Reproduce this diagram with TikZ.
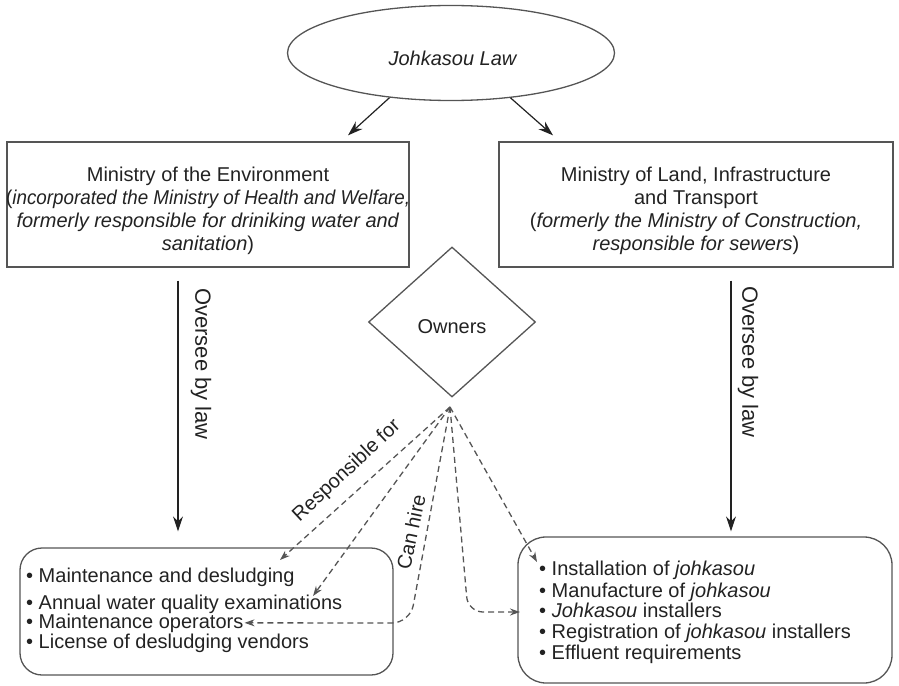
\documentclass[tikz,border=0pt]{standalone}
\usepackage{fontspec}
\setmainfont{Liberation Sans}
\usetikzlibrary{shapes.geometric,arrows.meta,calc}
\definecolor{ink}{HTML}{222222}
\definecolor{frame}{HTML}{555555}
\definecolor{dashc}{HTML}{555555}
\tikzset{
  txt/.style={font=\fontsize{20}{23}\selectfont, text=ink},
  box/.style={draw=frame, line width=1.3pt, inner sep=0pt},
  boxtxt/.style={txt, inner sep=0pt, align=center},
  bul/.style={txt, inner sep=0pt, anchor=base west},
  solidarrow/.style={draw=ink, line width=1.2pt, -{Stealth[length=15pt,width=10pt]}},
  dasharrow/.style={draw=dashc, line width=1.3pt, dash pattern=on 6pt off 4pt, -{Stealth[length=10pt,width=7pt]}},
}
\begin{document}
\begin{tikzpicture}[x=1pt,y=-1pt]
\useasboundingbox (0,0) rectangle (899,685);
% top ellipse
\node[draw=frame, line width=1.3pt, ellipse, minimum width=327pt, minimum height=95pt, inner sep=0pt] (law) at (451,53) {};
\node[txt, inner sep=0pt] (lawtxt) at (453,58) {\textit{Johkasou Law}};
% ministries
\node[box, minimum width=402pt, minimum height=125pt] (env) at (208,204.5) {};
\node[boxtxt] (envtxt) at (208,211)
  {Ministry of the Environment\\(\scalebox{0.94}[1]{\textit{incorporated the Ministry of Health and Welfare,}}\\\textit{formerly responsible for driniking water and}\\\textit{sanitation})};
\node[box, minimum width=394pt, minimum height=125pt] (land) at (696,204.5) {};
\node[boxtxt] (landtxt) at (696,211)
  {Ministry of Land, Infrastructure\\and Transport\\(\textit{formerly the Ministry of Construction,}\\\textit{responsible for sewers})};
% owners
\node[draw=frame, line width=1.3pt, diamond, aspect=1.11, minimum width=167pt, minimum height=150pt, inner sep=0pt] (owners) at (452,322) {};
\node[txt, inner sep=0pt] (ownlbl) at (452,327) {Owners};
% bottom boxes
\node[draw=frame, line width=1.3pt, rounded corners=22pt, minimum width=373pt, minimum height=127pt] (lbox) at (206.5,611.5) {};
\node[draw=frame, line width=1.3pt, rounded corners=28pt, minimum width=374pt, minimum height=146pt] (rbox) at (705,610) {};
% left box items
\node[bul] (m1) at (26,582) {• Maintenance and desludging};
\node[bul] (m2) at (26,609) {• Annual water quality examinations};
\node[bul] (m3) at (26,628) {• Maintenance operators};
\node[bul] (m4) at (26,648) {• License of desludging vendors};
% right box items
\node[bul] (r1) at (539,575) {• Installation of \textit{johkasou}};
\node[bul] (r2) at (539,597) {• Manufacture of \textit{johkasou}};
\node[bul] (r3) at (539,617) {• \textit{Johkasou} installers};
\node[bul] (r4) at (539,638) {• Registration of \textit{johkasou} installers};
\node[bul] (r5) at (539,659) {• Effluent requirements};
% arrows from law
\draw[solidarrow] (law.216) -- ([xshift=140pt,yshift=6pt]env.north);
\draw[solidarrow] (law.323) -- ([xshift=-143pt,yshift=6pt]land.north);
% oversee arrows
\draw[solidarrow] ([xshift=-30pt,yshift=-13pt]env.south) -- ([xshift=-28.5pt,yshift=16pt]lbox.north);
\draw[solidarrow] ([xshift=35pt,yshift=-13pt]land.south) -- ([xshift=26pt,yshift=5pt]rbox.north);
\node[txt, font=\fontsize{22}{24}\selectfont, rotate=-90, inner sep=0pt] (ov1) at (201,364) {Oversee by law};
\node[txt, font=\fontsize{22}{24}\selectfont, rotate=-90, inner sep=0pt] (ov2) at (748,362) {Oversee by law};
% dashed arrows from owners
\coordinate (src) at (450,407);
\coordinate (t1) at (280,560);
\coordinate (t2) at (313,596);
\coordinate (t4) at (537,562);
\coordinate (c3) at (410,623);
\coordinate (c5) at (468,612);
\draw[dasharrow] (src) -- (t1);
\draw[dasharrow] (src) -- (t2);
\draw[dasharrow, rounded corners=18pt] (src) -- (c3) -- ([xshift=1pt]m3.east);
\draw[dasharrow] (src) -- (t4);
\draw[dasharrow, rounded corners=15pt] (src) -- (c5) -- (520,612);
% labels
\node[txt, rotate=43, inner sep=0pt] (resp) at (347,471) {Responsible for};
\node[txt, rotate=78, inner sep=0pt] (hire) at (411,532) {Can hire};
\end{tikzpicture}
\end{document}
